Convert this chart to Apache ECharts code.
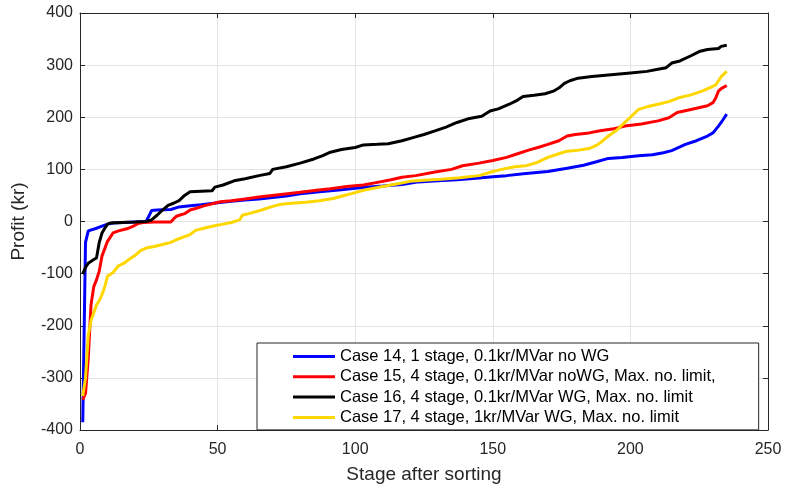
<!DOCTYPE html>
<html>
<head>
<meta charset="utf-8">
<script src="https://cdn.jsdelivr.net/npm/echarts@6/dist/echarts.min.js"></script>
<style>
  html, body { margin: 0; padding: 0; background: #fff; }
  #main { width: 785px; height: 489px; }
</style>
</head>
<body>
<div id="main"></div>
<script>
// legend names
var names = [
    'Case 14, 1 stage, 0.1kr/MVar no WG',
    'Case 15, 4 stage, 0.1kr/MVar noWG, Max. no. limit,',
    'Case 16, 4 stage, 0.1kr/MVar WG, Max. no. limit',
    'Case 17, 4 stage, 1kr/MVar WG, Max. no. limit'
];

// [stage, profit]
var case14 = [
    [1, -385], [2, -40], [3, -18], [6, -13], [8, -9], [10, -5], [12, -3], [16, -2], [20, -1],
    [24, 0], [25, 10], [26, 21], [28, 22], [33, 23], [36, 28], [40, 30], [44, 32], [50, 36],
    [55, 39], [60, 41], [65, 43], [70, 46], [75, 49], [80, 53], [87, 57], [95, 61], [100, 64],
    [105, 66], [110, 68], [117, 71], [123, 76], [130, 78], [137, 80], [145, 83.5], [150, 86],
    [155, 88], [162, 92], [170, 96], [177, 102], [183, 108], [188, 115], [192, 121], [197, 123],
    [203, 126], [208, 128], [212, 132], [215, 136], [218, 143], [220, 148], [224, 155],
    [228, 164], [230, 170], [232, 183], [233, 190], [234, 198], [235, 206]
];
var case15 = [
    [1, -342], [2, -330], [3, -262], [4, -160], [5, -125], [6, -112], [7, -95], [8, -66],
    [9, -52], [10, -38], [11, -30], [12, -22], [14, -18], [17, -14], [19, -10], [21, -4],
    [23, -2], [27, -1], [33, -1], [34, 5], [35, 10], [38, 15], [40, 22], [42, 25], [45, 30],
    [51, 38], [55, 40], [60, 43], [65, 47], [73, 52], [80, 56], [86, 60], [91, 63], [97, 67],
    [103, 70], [109, 76], [113, 80], [117, 85], [122, 88], [129, 95], [135, 100], [139, 107],
    [145, 112], [150, 117], [155, 123], [159, 130], [163, 137], [167, 143], [170, 148],
    [174, 155], [177, 164], [180, 167], [185, 170], [189, 174], [194, 178], [198, 183],
    [204, 187], [210, 193], [214, 199], [217, 209], [222, 215], [228, 222], [230, 228],
    [231, 237], [232, 250], [233, 255], [235, 261]
];
var case16 = [
    [1, -101], [2, -88], [3, -80], [5, -73], [6, -70], [7, -40], [8, -22], [9, -13], [10, -5],
    [11, -3], [15, -2], [20, -1], [24, 0], [26, 3], [28, 12], [30, 22], [32, 31], [34, 35],
    [36, 40], [38, 50], [40, 57], [44, 58], [48, 59], [49, 66], [52, 70], [56, 78], [60, 82],
    [65, 88], [69, 92], [70, 100], [75, 105], [80, 112], [85, 120], [88, 126], [91, 133],
    [95, 138], [100, 142], [103, 147], [108, 148], [112, 149], [117, 155], [121, 161],
    [125, 167], [129, 174], [133, 181], [137, 190], [141, 197], [146, 202], [149, 212],
    [152, 216], [156, 225], [159, 233], [161, 240], [165, 242], [169, 245], [172, 250],
    [174, 256], [176, 265], [178, 270], [181, 275], [186, 278], [192, 281], [200, 285],
    [206, 288], [210, 292], [213, 295], [215, 304], [218, 308], [222, 318], [225, 326],
    [228, 330], [232, 332], [233, 336], [235, 338]
];
var case17 = [
    [1, -335], [2, -300], [3, -218], [4, -190], [5, -175], [6, -160], [7, -152], [8, -140],
    [9, -125], [10, -105], [12, -98], [14, -85], [16, -80], [18, -72], [20, -65], [22, -56],
    [24, -51], [27, -48], [30, -44], [33, -40], [35, -35], [38, -29], [40, -25], [42, -17],
    [45, -13], [48, -9], [52, -5], [55, -2], [58, 3], [59, 12], [62, 16], [66, 22], [70, 29],
    [73, 33], [77, 35], [82, 37], [87, 40], [92, 44], [96, 50], [99, 54], [103, 60], [109, 66],
    [115, 72], [120, 77], [125, 79], [131, 81], [138, 84], [145, 88], [150, 96], [154, 101],
    [158, 105], [162, 107], [166, 113], [170, 123], [174, 130], [177, 135], [180, 136],
    [185, 140], [188, 147], [190, 155], [192, 164], [195, 175], [198, 190], [200, 200],
    [203, 215], [206, 220], [210, 225], [214, 230], [218, 238], [222, 243], [226, 250],
    [229, 257], [231, 262], [232, 270], [233, 278], [235, 288]
];

var colors = ['#0000ff', '#ff0000', '#000000', '#ffd700'];
var allData = [case14, case15, case16, case17];
var font = 'Liberation Sans, Arial, Helvetica, sans-serif';

var chart = echarts.init(document.getElementById('main'));

var seriesList = [];
for (var i = 0; i < allData.length; i++) {
    seriesList.push({
        name: names[i],
        type: 'line',
        data: allData[i],
        showSymbol: false,
        symbol: 'none',
        lineStyle: { color: colors[i], width: 3 },
        itemStyle: { color: colors[i] },
        animation: false
    });
}

// axis box on top/right like matlab
var boxAxis = {
    axisLine: { show: true, onZero: false, lineStyle: { color: '#262626', width: 1 } },
    axisTick: { show: true, inside: true, length: 5, lineStyle: { color: '#262626' } },
    axisLabel: { show: false },
    splitLine: { show: false }
};

chart.setOption({
    backgroundColor: '#ffffff',
    animation: false,
    textStyle: { fontFamily: font },
    grid: { left: 80, right: 17, top: 13, bottom: 55 },
    legend: {
        data: names,
        orient: 'vertical',
        left: 257,
        top: 343,
        icon: 'rect',
        itemWidth: 42,
        itemHeight: 3,
        itemGap: 3.3,
        padding: [5, 43, 4, 36],
        backgroundColor: '#ffffff',
        borderColor: '#262626',
        borderWidth: 1,
        borderRadius: 0,
        textStyle: { fontFamily: font, fontSize: 16.5, lineHeight: 16, color: '#000' }
    },
    xAxis: [
        {
            type: 'value', min: 0, max: 250, interval: 50,
            name: 'Stage after sorting', nameLocation: 'middle', nameGap: 35,
            nameTextStyle: { fontFamily: font, fontSize: 19, color: '#262626' },
            axisLine: { show: true, onZero: false, lineStyle: { color: '#262626', width: 1 } },
            axisTick: { show: true, inside: true, length: 5, lineStyle: { color: '#262626' } },
            axisLabel: { fontFamily: font, fontSize: 16, color: '#262626', margin: 12 },
            splitLine: { show: true, lineStyle: { color: '#e3e3e3', width: 1 } }
        },
        Object.assign({ type: 'value', min: 0, max: 250, interval: 50, position: 'top' }, boxAxis)
    ],
    yAxis: [
        {
            type: 'value', min: -400, max: 400, interval: 100,
            name: 'Profit (kr)', nameLocation: 'middle', nameGap: 52,
            nameTextStyle: { fontFamily: font, fontSize: 19, color: '#262626' },
            axisLine: { show: true, onZero: false, lineStyle: { color: '#262626', width: 1 } },
            axisTick: { show: true, inside: true, length: 5, lineStyle: { color: '#262626' } },
            axisLabel: { fontFamily: font, fontSize: 16, color: '#262626', margin: 7 },
            splitLine: { show: true, lineStyle: { color: '#e3e3e3', width: 1 } }
        },
        Object.assign({ type: 'value', min: -400, max: 400, interval: 100, position: 'right' }, boxAxis)
    ],
    series: seriesList
});
</script>
</body>
</html>
